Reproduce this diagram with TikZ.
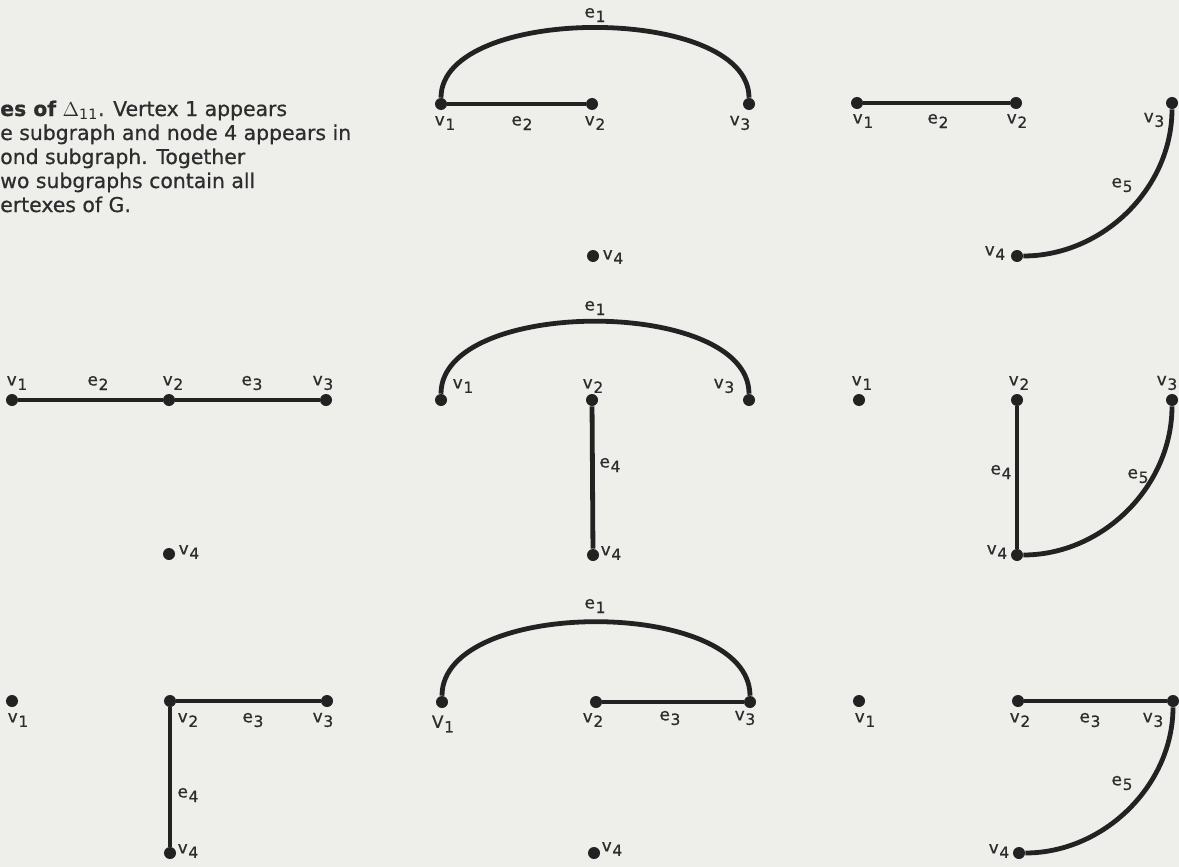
\documentclass[tikz,border=0pt]{standalone}
\usepackage{fontspec}
\setmainfont{DejaVu Sans}
\newfontfamily\heavyfont[FakeBold=0.7]{DejaVu Sans}
\usetikzlibrary{positioning}
\definecolor{paper}{HTML}{EEEEEB}
\definecolor{ink}{HTML}{222222}
\newcommand{\lab}[2]{#1\kern0.5pt\raisebox{-0.5ex}{\fontsize{11}{12}\selectfont#2}}

\begin{document}
\begin{tikzpicture}[x=0.025cm, y=-0.025cm,
  every node/.style={text=ink!95},
  vtx/.style={circle, fill=ink, inner sep=0pt, minimum size=0.3cm},
  lbl/.style={font=\heavyfont\fontsize{12}{13}\selectfont, inner sep=0pt},
  captext/.style={font=\heavyfont\fontsize{14.5}{17}\selectfont, anchor=base west, inner sep=0pt},
  link/.style={draw=ink, line width=0.12cm}]

\fill[paper] (0,0) rectangle (1179,867);
\useasboundingbox (0,0) rectangle (1179,867);

% caption (cut at the left edge)
\node[captext] (cap1) at (0,116) {{\bfseries es of} $\Delta_{\mathrm{11}}$. Vertex 1 appears};
\node[captext] (cap2) at (0,140) {e subgraph and node 4 appears in};
\node[captext] (cap3) at (0,164) {ond subgraph. Together};
\node[captext] (cap4) at (0,188) {wo subgraphs contain all};
\node[captext] (cap5) at (0,212) {ertexes of G.};

% top middle
\node[vtx] (a1) at (441,104) {};
\node[vtx] (a2) at (592,104) {};
\node[vtx] (a3) at (749,104) {};
\node[vtx] (a4) at (593,256) {};
\draw[link] (a1)--(a2);
\draw[link] (a1) .. controls +(0,-100) and +(0,-100) .. (a3);
\node[lbl] (a1l) at (445,123) {\lab{v}{1}};
\node[lbl] (a2l) at (595,123) {\lab{v}{2}};
\node[lbl] (a3l) at (740,123) {\lab{v}{3}};
\node[lbl] (a4l) at (613,257) {\lab{v}{4}};
\node[lbl] (ae1) at (595,15)  {\lab{e}{1}};
\node[lbl] (ae2) at (522,123) {\lab{e}{2}};

% top right
\node[vtx] (b1) at (857,103)  {};
\node[vtx] (b2) at (1016,103) {};
\node[vtx] (b3) at (1172,103) {};
\node[vtx] (b4) at (1017,256) {};
\draw[link] (b1)--(b2);
\draw[link] (b3) .. controls +(0,85) and +(86,0) .. (b4);
\node[lbl] (b1l) at (863,121)  {\lab{v}{1}};
\node[lbl] (b2l) at (1017,121) {\lab{v}{2}};
\node[lbl] (b3l) at (1154,120) {\lab{v}{3}};
\node[lbl] (b4l) at (995,253)  {\lab{v}{4}};
\node[lbl] (be2) at (938,121)  {\lab{e}{2}};
\node[lbl] (be5) at (1122,185) {\lab{e}{5}};

% middle left
\node[vtx] (c1) at (12,400)  {};
\node[vtx] (c2) at (169,400) {};
\node[vtx] (c3) at (326,400) {};
\node[vtx] (c4) at (169,554) {};
\draw[link] (c1)--(c2); \draw[link] (c2)--(c3);
\node[lbl] (c1l) at (17,383)  {\lab{v}{1}};
\node[lbl] (c2l) at (173,383) {\lab{v}{2}};
\node[lbl] (c3l) at (323,383) {\lab{v}{3}};
\node[lbl] (c4l) at (189,552) {\lab{v}{4}};
\node[lbl] (ce2) at (98,383)  {\lab{e}{2}};
\node[lbl] (ce3) at (252,383) {\lab{e}{3}};

% middle middle
\node[vtx] (d1) at (441,400) {};
\node[vtx] (d2) at (592,400) {};
\node[vtx] (d3) at (749,400) {};
\node[vtx] (d4) at (593,555) {};
\draw[link] (d1) .. controls +(0,-103) and +(0,-103) .. (d3);
\draw[link] (d2)--(d4);
\node[lbl] (d1l) at (463,386) {\lab{v}{1}};
\node[lbl] (d2l) at (593,386) {\lab{v}{2}};
\node[lbl] (d3l) at (724,386) {\lab{v}{3}};
\node[lbl] (d4l) at (611,553) {\lab{v}{4}};
\node[lbl] (de1) at (595,308) {\lab{e}{1}};
\node[lbl] (de4) at (610,465) {\lab{e}{4}};

% middle right
\node[vtx] (f1) at (859,400)  {};
\node[vtx] (f2) at (1017,400) {};
\node[vtx] (f3) at (1172,400) {};
\node[vtx] (f4) at (1017,555) {};
\draw[link] (f2)--(f4);
\draw[link] (f3) .. controls +(0,86) and +(86,0) .. (f4);
\node[lbl] (f1l) at (862,383)  {\lab{v}{1}};
\node[lbl] (f2l) at (1019,383) {\lab{v}{2}};
\node[lbl] (f3l) at (1167,383) {\lab{v}{3}};
\node[lbl] (f4l) at (997,552)  {\lab{v}{4}};
\node[lbl] (fe4) at (1001,472) {\lab{e}{4}};
\node[lbl] (fe5) at (1138,476) {\lab{e}{5}};

% bottom left
\node[vtx] (g1) at (12,701)  {};
\node[vtx] (g2) at (170,701) {};
\node[vtx] (g3) at (327,701) {};
\node[vtx] (g4) at (170,853) {};
\draw[link] (g2)--(g3); \draw[link] (g2)--(g4);
\node[lbl] (g1l) at (18,720)  {\lab{v}{1}};
\node[lbl] (g2l) at (188,720) {\lab{v}{2}};
\node[lbl] (g3l) at (323,720) {\lab{v}{3}};
\node[lbl] (g4l) at (188,851) {\lab{v}{4}};
\node[lbl] (ge3) at (253,720) {\lab{e}{3}};
\node[lbl] (ge4) at (188,795) {\lab{e}{4}};

% bottom middle
\node[vtx] (h1) at (442,702) {};
\node[vtx] (h2) at (596,702) {};
\node[vtx] (h3) at (750,702) {};
\node[vtx] (h4) at (594,853) {};
\draw[link] (h1) .. controls +(0,-105) and +(0,-105) .. (h3);
\draw[link] (h2)--(h3);
\node[lbl] (h1l) at (443,724) {\lab{V}{1}};
\node[lbl] (h2l) at (593,720) {\lab{v}{2}};
\node[lbl] (h3l) at (745,718) {\lab{v}{3}};
\node[lbl] (h4l) at (612,849) {\lab{v}{4}};
\node[lbl] (he1) at (595,606) {\lab{e}{1}};
\node[lbl] (he3) at (670,718) {\lab{e}{3}};

% bottom right
\node[vtx] (k1) at (859,701)  {};
\node[vtx] (k2) at (1018,701) {};
\node[vtx] (k3) at (1173,701) {};
\node[vtx] (k4) at (1019,853) {};
\draw[link] (k2)--(k3);
\draw[link] (k3) .. controls +(0,84) and +(85,0) .. (k4);
\node[lbl] (k1l) at (865,720)  {\lab{v}{1}};
\node[lbl] (k2l) at (1020,720) {\lab{v}{2}};
\node[lbl] (k3l) at (1153,720) {\lab{v}{3}};
\node[lbl] (k4l) at (999,851)  {\lab{v}{4}};
\node[lbl] (ke3) at (1090,720) {\lab{e}{3}};
\node[lbl] (ke5) at (1122,783) {\lab{e}{5}};
\end{tikzpicture}
\end{document}
